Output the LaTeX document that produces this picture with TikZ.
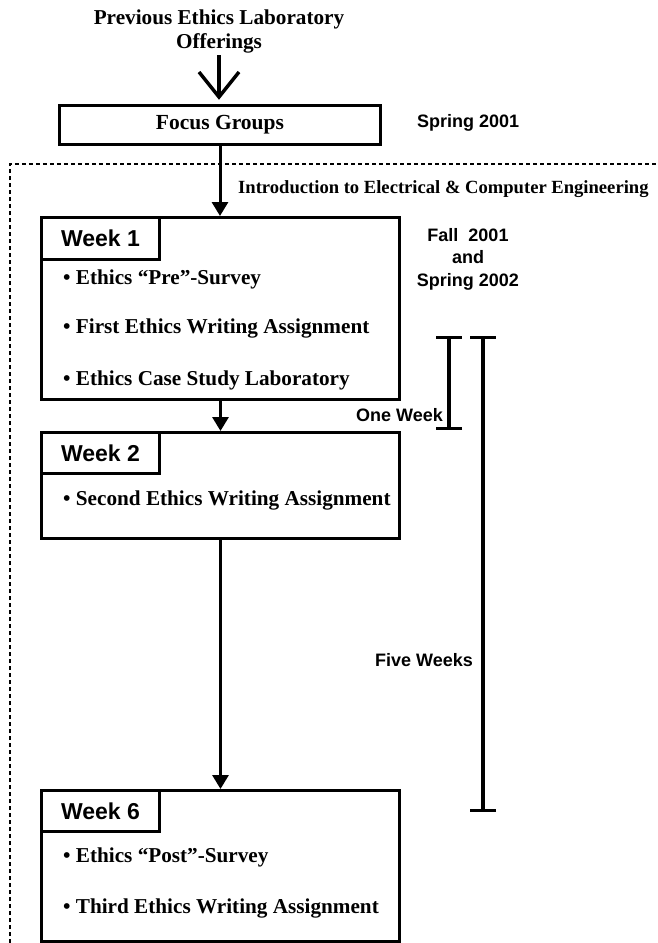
\documentclass[tikz,border=0pt]{standalone}
\usepackage{fontspec}
\setmainfont{Liberation Serif}
\newfontfamily\hv{Liberation Sans}
\usetikzlibrary{arrows.meta,calc}
\begin{document}
\begin{tikzpicture}[x=1pt,y=-1pt,
  box/.style={draw,line width=3pt,rectangle,inner sep=0pt,anchor=north west},
  tabtxt/.style={font=\hv\bfseries\fontsize{23}{25}\selectfont},
  bul/.style={anchor=west,font=\bfseries\fontsize{21.2}{24}\selectfont,inner sep=0pt},
  side/.style={font=\hv\bfseries\fontsize{18}{22.5}\selectfont,inner sep=0pt},
  arr/.style={line width=3pt,-{Triangle[length=14pt,width=16pt]}},
  brk/.style={line width=3.2pt,{Bar[width=26pt,line width=3.2pt]}-{Bar[width=26pt,line width=3.2pt]}}]
\useasboundingbox (0,0) rectangle (657,943);
% title
\node[font=\bfseries\fontsize{21.2}{24}\selectfont,align=center,inner sep=0pt] (prev) at (219,31) {Previous Ethics Laboratory\\Offerings};
\coordinate (vtop) at (219,55);
\coordinate (vtip) at (219,97);
\draw[line width=3.5pt] (vtop) -- (vtip);
\draw[line width=3.5pt,line join=miter] ($(vtip)+(-20,-25)$) -- (vtip) -- ($(vtip)+(20,-25)$);
% focus groups
\node[box,minimum width=321pt,minimum height=39pt] (focus) at (58,104) {};
\node[font=\bfseries\fontsize{21.5}{24}\selectfont,inner sep=0pt] (focustxt) at (focus.center) {Focus Groups};
\node[side,anchor=west] (spring01) at (417,123) {Spring 2001};
% dashed region
\draw[line width=1.2pt,dash pattern=on 4pt off 3pt] (10,943) -- (10,164) -- (657,164);
\node[font=\bfseries\fontsize{18.6}{21}\selectfont,anchor=west,inner sep=0pt] (intro) at (238,189) {Introduction to Electrical \& Computer Engineering};
% week 1
\node[box,minimum width=358pt,minimum height=182pt] (w1) at (40,216) {};
\node[box,minimum width=118pt,minimum height=42pt] (w1tab) at (40,216) {};
\node[tabtxt] (w1lbl) at (w1tab.center) {Week 1};
\node[bul] (w1a) at (63,279) {• Ethics “Pre”-Survey};
\node[bul] (w1b) at (63,328) {• First Ethics Writing Assignment};
\node[bul] (w1c) at (63,380) {• Ethics Case Study Laboratory};
\node[side,align=center] (fall) at (468,259) {Fall\ \ 2001\\and\\Spring 2002};
% week 2
\node[box,minimum width=358pt,minimum height=106pt] (w2) at (40,431) {};
\node[box,minimum width=118pt,minimum height=41pt] (w2tab) at (40,431) {};
\node[tabtxt] (w2lbl) at (w2tab.center) {Week 2};
\node[bul] (w2a) at (63,500) {• Second Ethics Writing Assignment};
% week 6
\node[box,minimum width=358pt,minimum height=151pt] (w6) at (40,789) {};
\node[box,minimum width=118pt,minimum height=41pt] (w6tab) at (40,789) {};
\node[tabtxt] (w6lbl) at (w6tab.center) {Week 6};
\node[bul] (w6a) at (63,857) {• Ethics “Post”-Survey};
\node[bul] (w6b) at (63,908) {• Third Ethics Writing Assignment};
% arrows
\draw[arr] (focus.south) -- (focus.south |- w1.north);
\draw[arr] (w1.south) -- (w2.north);
\draw[arr] (w2.south) -- (w6.north);
% brackets
\coordinate (b1t) at (449,336);
\coordinate (b1b) at (449,430);
\coordinate (b5t) at (483,336);
\coordinate (b5b) at (483,812);
\draw[brk] (b1t) -- (b1b);
\draw[brk] (b5t) -- (b5b);
\node[side,anchor=east] (oneweek) at (443,415) {One Week};
\node[side,anchor=east] (fiveweeks) at (473,660) {Five Weeks};
\end{tikzpicture}
\end{document}
